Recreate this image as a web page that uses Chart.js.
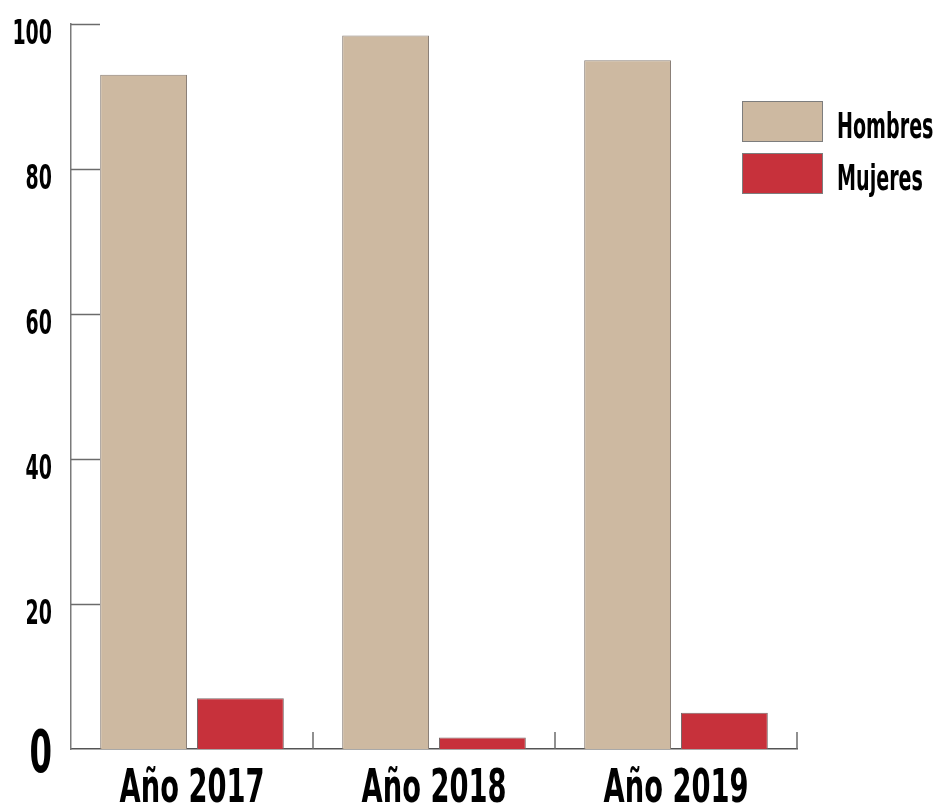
<!DOCTYPE html>
<html>
<head>
<meta charset="utf-8">
<script src="https://cdn.jsdelivr.net/npm/chart.js@4.4.0/dist/chart.umd.min.js"></script>
<style>
  html, body { margin: 0; padding: 0; background: #fff; }
  #wrap { width: 938px; height: 805px; }
</style>
</head>
<body>
<div id="wrap"><canvas id="barCanvas" width="938" height="805"></canvas></div>
<script>
// data
let years = ["Año 2017", "Año 2018", "Año 2019"]
let hombres = [93, 98.4, 95]
let mujeres = [7, 1.6, 5]
let yTicks = [0, 20, 40, 60, 80, 100]

let fontName = "'DejaVu Sans Condensed', 'DejaVu Sans', sans-serif"

// the original uses a very narrow face, so the text is squeezed sideways
function drawText(ctx, text, x, y, size, align, sx) {
    ctx.save()
    ctx.translate(x, y)
    ctx.scale(sx, 1)
    ctx.font = "bold " + size + "px " + fontName
    ctx.textAlign = align
    ctx.textBaseline = "alphabetic"
    ctx.fillStyle = "#000"
    ctx.fillText(text, 0, 0)
    ctx.restore()
}

let extras = {
    id: "extras",
    afterDraw(chart) {
        let ctx = chart.ctx
        let xs = chart.scales.x
        let ys = chart.scales.y
        let area = chart.chartArea
        ctx.save()
        ctx.strokeStyle = "#6b6b6b"
        ctx.lineWidth = 1.5
        // y ticks go right from the axis
        for (let i = 1; i < yTicks.length; i++) {
            let y = Math.round(ys.getPixelForValue(yTicks[i])) + 0.5
            ctx.beginPath()
            ctx.moveTo(area.left, y)
            ctx.lineTo(area.left + 29, y)
            ctx.stroke()
        }
        // x ticks at category borders, pointing up
        for (let i = 0; i < years.length; i++) {
            let x = Math.round(xs.getPixelForValue(i + 0.5))
            ctx.beginPath()
            ctx.moveTo(x, area.bottom)
            ctx.lineTo(x, area.bottom - 17)
            ctx.stroke()
        }
        ctx.restore()

        // y labels
        yTicks.forEach(v => {
            let y = ys.getPixelForValue(v)
            if (v === 0) drawText(ctx, "0", 52, y + 23, 58, "right", 0.62)
            else drawText(ctx, String(v), 52, y + 20, 34, "right", 0.62)
        })
        // x labels
        years.forEach((lab, i) => {
            drawText(ctx, lab, xs.getPixelForValue(i), 802, 46, "center", 0.66)
        })

        // legend
        let ly = [101, 153]
        chart.data.datasets.forEach((ds, i) => {
            ctx.fillStyle = ds.backgroundColor
            ctx.fillRect(742, ly[i], 80, 40)
            ctx.strokeStyle = "#7d7d7d"
            ctx.lineWidth = 1
            ctx.strokeRect(742.5, ly[i] + 0.5, 80, 40)
            drawText(ctx, ds.label, 837, ly[i] + 37, 36, "left", 0.59)
        })
    }
}

let barCanvas = document.getElementById("barCanvas").getContext("2d")

let barChart = new Chart(barCanvas, {
    type: "bar",
    data: {
        labels: years,
        datasets: [{
            label: "Hombres",
            data: hombres,
            backgroundColor: "#cdb9a1",
            borderColor: "#8a8078",
            borderWidth: 1,
            barPercentage: 0.897,
            categoryPercentage: 0.8
        }, {
            label: "Mujeres",
            data: mujeres,
            backgroundColor: "#c7313b",
            borderColor: "#7a6a6a",
            borderWidth: 1,
            barPercentage: 0.897,
            categoryPercentage: 0.8
        }]
    },
    options: {
        responsive: false,
        animation: false,
        layout: {
            padding: { left: 0, top: 24, right: 141, bottom: 0 }
        },
        plugins: {
            legend: { display: false },
            tooltip: { enabled: false }
        },
        scales: {
            x: {
                afterFit(scale) {
                    scale.height = 56
                    scale.paddingLeft = 0
                    scale.paddingRight = 0
                },
                grid: { display: false, drawTicks: false },
                border: { display: true, color: "#555", width: 1.5 },
                ticks: { display: false }
            },
            y: {
                min: 0,
                max: 100,
                afterFit(scale) {
                    scale.width = 71
                    scale.paddingTop = 0
                    scale.paddingBottom = 0
                },
                afterBuildTicks(scale) {
                    scale.ticks = yTicks.map(v => ({ value: v }))
                },
                grid: { display: false, drawTicks: false },
                border: { display: true, color: "#7a7a7a", width: 1.5 },
                ticks: { display: false }
            }
        }
    },
    plugins: [extras]
})
</script>
</body>
</html>
